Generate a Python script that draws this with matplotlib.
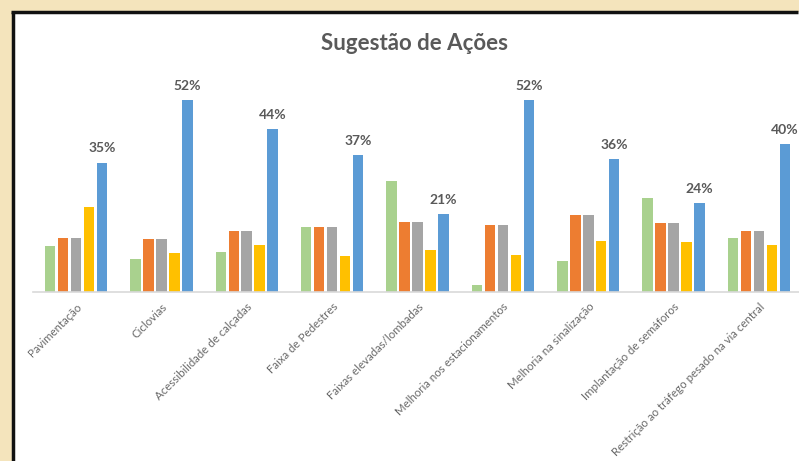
import numpy as np
import matplotlib
matplotlib.use('Agg')
import matplotlib.pyplot as plt
from matplotlib.patches import Rectangle
from matplotlib.lines import Line2D

categories = ['Pavimentação', 'Ciclovias', 'Acessibilidade de calçadas',
              'Faixa de Pedestres', 'Faixas elevadas/lombadas',
              'Melhoria nos estacionamentos', 'Melhoria na sinalização',
              'Implantação de semáforos',
              'Restrição ao tráfego pesado na via central']

# five unnamed series (percent)
serie_verde = [12.4, 8.7, 10.7, 17.5, 30.0, 1.8, 8.4, 25.3, 14.5]
serie_laranja = [14.5, 14.3, 16.3, 17.5, 19.0, 18.0, 20.7, 18.7, 16.3]
serie_cinza = [14.5, 14.3, 16.3, 17.5, 19.0, 18.0, 20.7, 18.7, 16.3]
serie_amarela = [23.0, 10.5, 12.6, 9.7, 11.3, 9.9, 13.7, 13.4, 12.7]
serie_azul = [35, 52, 44, 37, 21, 52, 36, 24, 40]

series = [serie_verde, serie_laranja, serie_cinza, serie_amarela, serie_azul]
colors = ['#A9D18E', '#ED7D31', '#A5A5A5', '#FFC000', '#5B9BD5']

plt.rcParams['font.family'] = ['Lato', 'DejaVu Sans']

fig = plt.figure(figsize=(7.99, 4.61), dpi=100)
fig.patch.set_facecolor('#F4E4BC')

# white chart area, frame only on left and top (rest runs off the picture)
x0 = 12.5 / 799
y1 = 1 - 12 / 461
fig.patches.append(Rectangle((x0, 0), 1 - x0, y1, transform=fig.transFigure,
                             facecolor='white', edgecolor='none', zorder=-1))
fig.lines.append(Line2D([x0, x0], [0.001, y1], transform=fig.transFigure,
                        color='#111111', lw=2.5, solid_capstyle='butt',
                        zorder=-0.5))
fig.lines.append(Line2D([x0 - 1.25 / 799, 0.999], [y1, y1],
                        transform=fig.transFigure, color='#111111', lw=2.5,
                        solid_capstyle='butt', zorder=-0.5))

ax = fig.add_axes([33.3 / 799, 169.5 / 461, 765.7 / 799, 221 / 461])
ax.set_facecolor('none')
ax.set_zorder(2)

x = np.arange(len(categories))
step = 0.152
width = 0.123
for i, (vals, c) in enumerate(zip(series, colors)):
    ax.bar(x + (i - 2) * step, vals, width, color=c, zorder=2)

for xi, v in zip(x, serie_azul):
    ax.annotate('%d%%' % v, (xi + 2 * step, v), xytext=(0, 6),
                textcoords='offset points', ha='center', va='bottom',
                fontsize=10, fontweight='bold', color='#595959',
                annotation_clip=False)

ax.set_xlim(-0.5, 8.5 - 2.7 / 85.4)
ax.set_ylim(0, 60)
ax.set_yticks([])
ax.set_xticks(x)
ax.set_xticklabels(categories, rotation=45, ha='right', rotation_mode='anchor',
                   fontsize=8.3, color='#6a6a6a')
ax.tick_params(axis='x', length=0, pad=7)
for s in ['top', 'right', 'left']:
    ax.spines[s].set_visible(False)
ax.spines['bottom'].set_color('#D9D9D9')
ax.spines['bottom'].set_linewidth(1.2)

fig.text(415 / 799, 1 - 43 / 461, 'Sugestão de Ações', ha='center', va='center',
         fontsize=16, fontweight='bold', color='#595959', zorder=3)

fig.savefig('out.png', dpi=100, facecolor=fig.get_facecolor())
